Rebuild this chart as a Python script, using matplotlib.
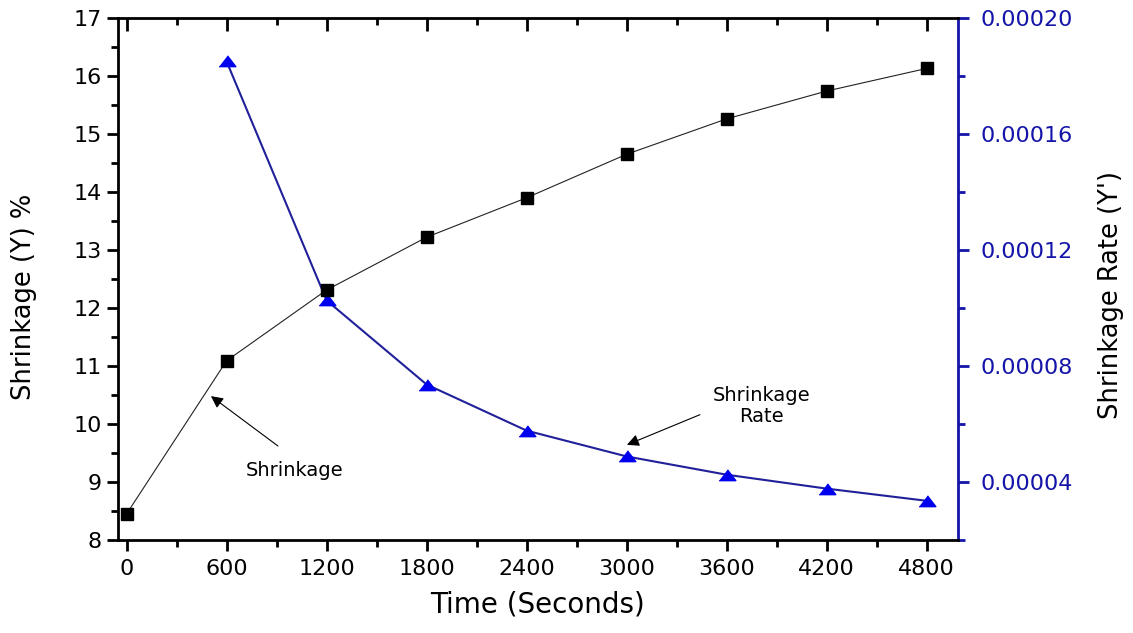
import numpy as np
import matplotlib
matplotlib.use("Agg")
from matplotlib import pyplot as plt
from matplotlib.ticker import MultipleLocator, FormatStrFormatter

# data
time_s = [0, 600, 1200, 1800, 2400, 3000, 3600, 4200, 4800]
shrinkage = [8.45, 11.09, 12.31, 13.22, 13.90, 14.65, 15.26, 15.74, 16.13]
rate_t = [600, 1200, 1800, 2400, 3000, 3600, 4200, 4800]
rate = [0.000185, 0.0001026, 0.0000736, 0.0000577, 0.0000488, 0.0000425, 0.0000377, 0.0000335]

blue = "#1414a8"
f = 16
plt.rcParams["font.family"] = ["DejaVu Sans"]

fig = plt.figure(figsize=(11.33, 6.33), dpi=100)
ax = fig.add_axes([0.1041, 0.147, 0.7414, 0.8246])
ax2 = ax.twinx()

# rate curve (right axis) ---------------------------------
tri = [(-1, -0.62), (1, -0.62), (0, 0.68)]
ax2.plot(rate_t, rate, color="#20209a", lw=1.5, zorder=2)
ax2.plot(rate_t, rate, ls="none", marker=tri, markersize=12,
         color="#0000ee", markeredgecolor="#0000ee", zorder=3)

# shrinkage curve (left axis) -----------------------------
ax.plot(time_s, shrinkage, color="#222222", lw=0.8, zorder=2)
ax.plot(time_s, shrinkage, ls="none", marker="s", markersize=8.6,
        color="black", zorder=3)
ax.set_zorder(ax2.get_zorder() + 1)
ax.patch.set_visible(False)

# axes ----------------------------------------------------
ax.set_xlim(-52, 4988)
ax.set_ylim(8, 17)
ax2.set_ylim(0.00002, 0.00020)

ax.xaxis.set_major_locator(MultipleLocator(600))
ax.xaxis.set_minor_locator(MultipleLocator(300))
ax.yaxis.set_major_locator(MultipleLocator(1))
ax.yaxis.set_minor_locator(MultipleLocator(0.5))
ax2.yaxis.set_major_locator(MultipleLocator(0.00004))
ax2.yaxis.set_minor_locator(MultipleLocator(0.00002))
ax2.yaxis.set_major_formatter(FormatStrFormatter("%.5f"))

for s in ["left", "bottom", "top"]:
    ax.spines[s].set_linewidth(2)
ax.spines["right"].set_visible(False)
for s in ["left", "bottom", "top"]:
    ax2.spines[s].set_visible(False)
ax2.spines["right"].set_linewidth(2)
ax2.spines["right"].set_color(blue)

ax.tick_params(which="major", length=8, width=2, labelsize=f, direction="out")
ax.tick_params(which="minor", length=5, width=2, direction="out")
ax.tick_params(axis="x", pad=6)
ax2.tick_params(which="major", length=8, width=2, labelsize=f, direction="out",
                color=blue, labelcolor=blue, pad=8)
ax2.tick_params(which="minor", length=5, width=2, direction="out", color=blue)

top = ax.secondary_xaxis("top")
top.xaxis.set_major_locator(MultipleLocator(600))
top.xaxis.set_minor_locator(MultipleLocator(300))
top.tick_params(which="major", direction="in", length=9, width=2, labeltop=False)
top.tick_params(which="minor", direction="in", length=5, width=2)
top.spines["top"].set_visible(False)

ax.set_xlabel("Time (Seconds)", fontsize=20, labelpad=8)
ax.set_ylabel("Shrinkage (Y) %", fontsize=18.5, labelpad=26)
ax2.set_ylabel("Shrinkage Rate (Y')", fontsize=18.5, labelpad=18)
ax.yaxis.label.set_y(0.466)
ax2.yaxis.label.set_y(0.47)

# annotations ---------------------------------------------
ax.annotate("", xy=(506, 10.48), xytext=(908, 9.62),
            arrowprops=dict(arrowstyle="-|>", color="black", lw=0.8,
                            mutation_scale=18, shrinkA=0, shrinkB=0), zorder=4)
ax.text(1010, 9.2, "Shrinkage", fontsize=14, ha="center", va="center", zorder=4)
ax.annotate("", xy=(3002, 9.64), xytext=(3440, 10.16),
            arrowprops=dict(arrowstyle="-|>", color="black", lw=0.8,
                            mutation_scale=18, shrinkA=0, shrinkB=0), zorder=4)
ax.text(3810, 10.31, "Shrinkage\nRate", fontsize=14, ha="center", va="center",
        linespacing=1.1, zorder=4)

fig.savefig("out.png", dpi=100)
